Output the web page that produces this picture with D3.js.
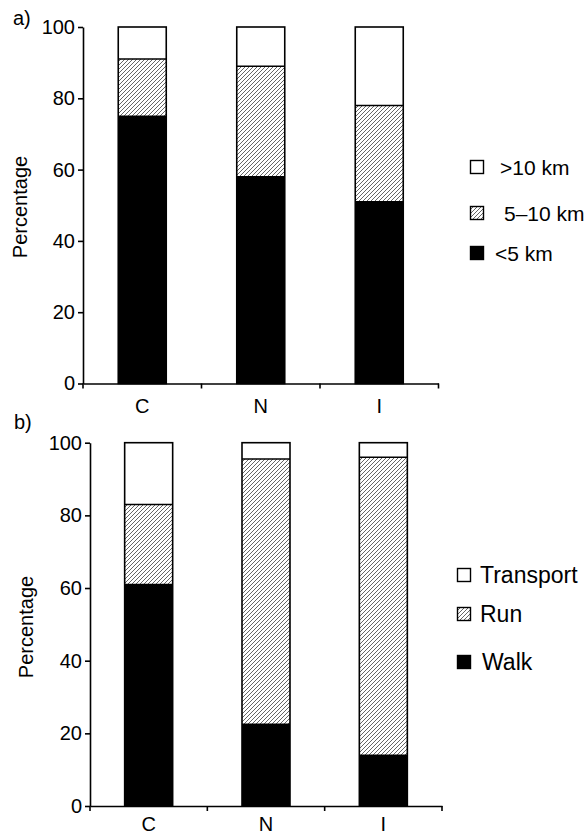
<!DOCTYPE html>
<html><head><meta charset="utf-8">
<script src="https://cdn.jsdelivr.net/npm/d3@7"></script>
<style>html,body{margin:0;padding:0;background:#fff;}svg{display:block;font-family:"Liberation Sans",Arial,sans-serif;}</style>
</head><body>
<script>
const categories = ["C", "N", "I"];
const yTicks = [0, 20, 40, 60, 80, 100];
// Panel a: distance
const distNear = [75, 58, 51];   // <5 km
const distMid  = [16, 31, 27];   // 5–10 km
const distFar  = [9, 11, 22];    // >10 km
const distLabels = [">10 km", "5\u201310 km", "<5 km"];
// Panel b: mode
const walk = [61, 22.5, 14];
const run  = [22, 73, 82];
const transport = [17, 4.5, 4];
const modeLabels = ["Transport", "Run", "Walk"];

const svg = d3.select("body").append("svg").attr("width", 588).attr("height", 837);
const defs = svg.append("defs");
const pat = defs.append("pattern").attr("id","hatch").attr("patternUnits","userSpaceOnUse")
  .attr("width",4).attr("height",4);
pat.append("rect").attr("width",4).attr("height",4).attr("fill","#fff");
pat.append("path").attr("d","M-1,1 l2,-2 M0,4 l4,-4 M3,5 l2,-2").attr("stroke","#555").attr("stroke-width",0.9);

const fills = ["#000", "url(#hatch)", "#fff"];
const FONT = "Liberation Sans, Arial, sans-serif";

function panel(cfg) {
  const g = svg.append("g");
  const x = d3.scaleBand().domain(categories).range([cfg.x0, cfg.x1]).padding(0);
  const y = d3.scaleLinear().domain([0, 100]).range([cfg.yb, cfg.yt]);
  const bw = 48;
  const series = cfg.series; // bottom to top
  categories.forEach((c, i) => {
    let acc = 0;
    const cx = x(c) + x.bandwidth() / 2;
    series.forEach((s, k) => {
      const v = s[i];
      g.append("rect").attr("x", cx - bw/2).attr("width", bw)
        .attr("y", y(acc + v)).attr("height", y(acc) - y(acc + v))
        .attr("fill", fills[k]).attr("stroke", "none");
      acc += v;
    });
    let acc2 = 0;
    series.forEach((s, k) => {
      acc2 += s[i];
      if (k < series.length - 1) {
        g.append("line").attr("x1", cx - bw/2).attr("x2", cx + bw/2)
          .attr("y1", y(acc2)).attr("y2", y(acc2)).attr("stroke", "#000").attr("stroke-width", 1.5);
      }
    });
    g.append("rect").attr("x", cx - bw/2).attr("width", bw).attr("y", y(100)).attr("height", y(0) - y(100))
      .attr("fill", "none").attr("stroke", "#000").attr("stroke-width", 1.6);
  });
  const ya = g.append("g").attr("transform", `translate(${cfg.x0},0)`)
    .call(d3.axisLeft(y).tickValues(yTicks).tickSize(5).tickPadding(3).tickSizeOuter(0));
  ya.select(".domain").attr("stroke-width", 1.6);
  ya.selectAll(".tick line").attr("stroke-width", 1.6);
  ya.selectAll("text").attr("font-size", 20).attr("font-family", FONT).attr("fill","#000");
  const xa = g.append("g").attr("transform", `translate(0,${cfg.yb})`)
    .call(d3.axisBottom(x).tickSize(0).tickPadding(cfg.xpad).tickSizeOuter(0));
  xa.select(".domain").attr("stroke-width", 1.6);
  xa.selectAll("text").attr("font-size", 20).attr("font-family", FONT).attr("fill","#000");
  const bounds = categories.map(c => x(c)).concat([cfg.x1]);
  g.selectAll(".xb").data(bounds).enter().append("line")
    .attr("x1", d => d).attr("x2", d => d).attr("y1", cfg.yb).attr("y2", cfg.yb + 5)
    .attr("stroke", "#000").attr("stroke-width", 1.6);
  g.append("text").attr("transform", `translate(${cfg.ylx},${cfg.yly}) rotate(-90)`)
    .attr("text-anchor", "middle").attr("font-size", 20).text("Percentage");
  g.append("text").attr("x", cfg.plx).attr("y", cfg.ply).attr("font-size", 20).text(cfg.panel);
  const legFills = fills.slice().reverse();
  cfg.labels.forEach((lab, k) => {
    const cy = cfg.legY[k];
    g.append("rect").attr("x", cfg.legX).attr("y", cy - 6.5).attr("width", 13).attr("height", 13)
      .attr("fill", legFills[k]).attr("stroke", "#000").attr("stroke-width", 1.4);
    g.append("text").attr("x", cfg.legTX[k]).attr("y", cy).attr("dy", "0.36em")
      .attr("font-size", cfg.legFS).text(lab);
  });
}

panel({x0: 83, x1: 438.5, yb: 383.5, yt: 27, series: [distNear, distMid, distFar], xpad: 15,
  ylx: 27, yly: 207, plx: 13, ply: 25, panel: "a)",
  labels: distLabels, legX: 470.5, legY: [167, 213, 253], legTX: [500, 504, 495], legFS: 21});
panel({x0: 90, x1: 442, yb: 806, yt: 442.7, series: [walk, run, transport], xpad: 11,
  ylx: 33, yly: 627, plx: 14, ply: 429, panel: "b)",
  labels: modeLabels, legX: 457.5, legY: [575, 614, 662], legTX: [480, 480, 482], legFS: 23});
</script>
</body></html>
